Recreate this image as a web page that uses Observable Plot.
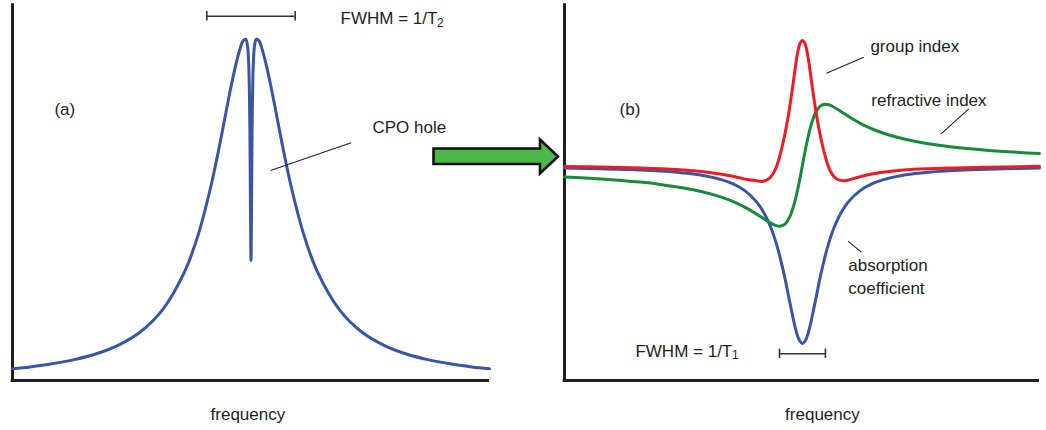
<!DOCTYPE html>
<html>
<head>
<meta charset="utf-8">
<script src="https://cdn.jsdelivr.net/npm/d3@7"></script>
<script src="https://cdn.jsdelivr.net/npm/@observablehq/plot@0.6"></script>
<style>
  html, body { margin: 0; padding: 0; background: #fff; }
  #root { position: relative; width: 1046px; height: 430px; overflow: hidden; background: #fff; }
  #root > svg, #root > figure { position: absolute; top: 0; margin: 0; }
</style>
</head>
<body>
<div id="root"></div>
<script>
// ---------- Panel (a): absorption line with CPO hole ----------
const aFreq = [-5.4,-5,-4.5,-4,-3.5,-3,-2.5,-2,-1.5,-1.2,-0.9,-0.7,-0.5,-0.35,-0.25,-0.18,-0.12,-0.08,-0.05,-0.03,-0.02,-0.01,0,
               0.01,0.02,0.03,0.05,0.08,0.12,0.18,0.25,0.35,0.5,0.7,0.9,1.2,1.5,2,2.5,3,3.5,4,4.5,5,5.4];
const aAbs  = [3.13,3.63,4.45,5.56,7.13,9.45,13.0,18.9,29.1,38.7,52.2,63.4,75.6,83.9,88.4,90.6,91.0,89.3,83.7,71.8,59.4,42.2,32.0,
               42.2,59.4,71.8,83.7,89.3,91.0,90.6,88.4,83.9,75.6,63.4,52.2,38.7,29.1,18.9,13.0,9.45,7.13,5.56,4.45,3.63,3.13];

// ---------- Panel (b): group index (red) ----------
const gFreq = [-10.37,-8.8,-7.07,-5.5,-4.4,-3.4,-2.8,-2.4,-2.0,-1.75,-1.5,-1.35,-1.2,-1.1,-1.0,-0.9,-0.8,-0.7,-0.6,-0.5,-0.4,-0.3,-0.2,-0.1,0,
               0.1,0.2,0.3,0.4,0.5,0.6,0.7,0.8,0.9,1.0,1.1,1.2,1.35,1.5,1.75,2.0,2.4,2.8,3.4,4.4,5.5,7.07,8.8,10.33];
const gIdx  = [0,-0.05,-0.15,-0.3,-0.5,-0.82,-1.1,-1.3,-1.42,-1.5,-1.28,-0.95,-0.38,0.2,0.95,1.85,2.85,4.0,5.3,6.8,8.4,10.1,11.5,12.35,12.6,
               12.35,11.5,10.1,8.4,6.8,5.3,4.0,2.85,1.85,0.95,0.2,-0.38,-0.95,-1.25,-1.42,-1.35,-1.1,-0.85,-0.6,-0.35,-0.22,-0.12,-0.05,0.02];

// ---------- Panel (b): refractive index (green) ----------
const nFreq = [-10.37,-8.8,-7.07,-6.2,-5,-4,-3.2,-2.6,-2.1,-1.7,-1.4,-1.15,-0.95,-0.75,-0.55,-0.35,-0.15,0,0.15,0.35,0.55,0.75,0.95,1.15,1.4,1.7,2.1,2.6,3.2,4,5,6.54,8.02,10.33];
const nIdx  = [-1.04,-1.24,-1.56,-1.79,-2.22,-2.74,-3.34,-3.96,-4.61,-5.2,-5.64,-5.91,-5.96,-5.73,-5.02,-3.67,-1.66,0.13,1.92,3.93,5.28,5.99,6.22,6.17,5.9,5.46,4.87,4.22,3.6,3.0,2.48,1.95,1.63,1.3];

// ---------- Panel (b): absorption coefficient (blue) ----------
const bFreq = [-10.37,-8.8,-7.07,-5.5,-4.5,-3.5,-3,-2.5,-2,-1.7,-1.4,-1.1,-0.8,-0.55,-0.3,-0.15,0,0.15,0.3,0.55,0.8,1.1,1.4,1.7,2,2.5,3,3.5,4.5,5.5,7.07,8.8,10.33];
const bAbs  = [-0.16,-0.23,-0.35,-0.57,-0.83,-1.34,-1.77,-2.44,-3.54,-4.55,-5.98,-8.01,-10.79,-13.59,-16.24,-17.31,-17.7,-17.31,-16.24,-13.59,-10.79,-8.01,-5.98,-4.55,-3.54,-2.44,-1.77,-1.34,-0.83,-0.57,-0.35,-0.23,-0.16];

// ---------- labels ----------
const labelsA = ["(a)", "CPO hole", "FWHM = 1/T", "2", "frequency"];
const labelsB = ["(b)", "group index", "refractive index", "absorption", "coefficient", "FWHM = 1/T", "1", "frequency"];

// ---------- build tables ----------
const zip = (xs, ys) => xs.map((x, i) => ({x, y: ys[i]}));
const lineA = zip(aFreq, aAbs);
const lineG = zip(gFreq, gIdx);
const lineN = zip(nFreq, nIdx);
const lineB = zip(bFreq, bAbs);

const INK = "#231f20";
const BLUE = "#3a55a5";
const RED = "#ec1c24";
const GREEN = "#178a3c";
const FONT = "'Liberation Sans', Arial, Helvetica, sans-serif";

// annotation placements in data units
const annA = [
  {x: -4.45, y: 70.9, t: labelsA[0], a: "start", s: 17},
  {x: 2.75, y: 66.1, t: labelsA[1], a: "start", s: 17},
  {x: 4.22, y: 95.1, t: labelsA[2], a: "end", s: 17},
  {x: 4.21, y: 94.4, t: labelsA[3], a: "start", s: 12},
  {x: -0.07, y: -10.5, t: labelsA[4], a: "middle", s: 17}
];
const annB = [
  {x: -7.97, y: 5.2, t: labelsB[0], a: "start", s: 17},
  {x: 2.96, y: 11.5, t: labelsB[1], a: "start", s: 17},
  {x: 3.0, y: 6.1, t: labelsB[2], a: "start", s: 17},
  {x: 2.0, y: -10.47, t: labelsB[3], a: "start", s: 17},
  {x: 2.0, y: -12.7, t: labelsB[4], a: "start", s: 17},
  {x: -3.06, y: -19.0, t: labelsB[5], a: "end", s: 17},
  {x: -3.07, y: -19.25, t: labelsB[6], a: "start", s: 12},
  {x: 0.87, y: -25.35, t: labelsB[7], a: "middle", s: 17}
];

function texts(ann) {
  return ["start", "middle", "end"].flatMap(anchor =>
    [17, 12].map(size => Plot.text(ann.filter(d => d.a === anchor && d.s === size), {
      x: "x", y: "y", text: "t", textAnchor: anchor, lineAnchor: "bottom",
      fontSize: size, fill: INK
    }))
  );
}

// ---------- Panel (a) ----------
const xDomA = [-5.4, 5.4], yDomA = [0, 100];
const plotA = Plot.plot({
  width: 520, height: 430,
  marginLeft: 12, marginRight: 31, marginTop: 5, marginBottom: 50,
  x: {domain: xDomA, axis: null},
  y: {domain: yDomA, axis: null},
  style: {fontFamily: FONT, background: "transparent", overflow: "visible"},
  marks: [
    Plot.ruleX([xDomA[0]], {y1: yDomA[0], y2: 100.45, stroke: INK, strokeWidth: 3}),
    Plot.ruleY([yDomA[0]], {x1: xDomA[0] - 0.03, x2: xDomA[1], stroke: INK, strokeWidth: 3}),
    Plot.line(lineA, {x: "x", y: "y", stroke: BLUE, strokeWidth: 3, curve: "catmull-rom"}),
    // FWHM bar
    Plot.ruleY([97.15], {x1: -1, x2: 1, stroke: "#333", strokeWidth: 1.6}),
    Plot.ruleX([-1, 1], {y1: 95.9, y2: 98.4, stroke: "#333", strokeWidth: 1.6}),
    // pointer
    Plot.link([{x1: 0.441, y1: 56.0, x2: 2.268, y2: 63.4}], {x1: "x1", y1: "y1", x2: "x2", y2: "y2", stroke: "#222", strokeWidth: 1.1}),
    ...texts(annA)
  ]
});
plotA.style.left = "0px";

// ---------- Panel (b) ----------
const xDomB = [-10.37, 10.33], yDomB = [-21.4, 16.1];
const plotB = Plot.plot({
  width: 526, height: 430,
  marginLeft: 44, marginRight: 7, marginTop: 5, marginBottom: 50,
  x: {domain: xDomB, axis: null},
  y: {domain: yDomB, axis: null},
  style: {fontFamily: FONT, background: "transparent", overflow: "visible"},
  marks: [
    Plot.ruleX([xDomB[0]], {y1: yDomB[0], y2: 16.27, stroke: INK, strokeWidth: 3}),
    Plot.ruleY([yDomB[0]], {x1: xDomB[0] - 0.06, x2: xDomB[1], stroke: INK, strokeWidth: 3}),
    Plot.line(lineB, {x: "x", y: "y", stroke: BLUE, strokeWidth: 3, curve: "catmull-rom"}),
    Plot.line(lineN, {x: "x", y: "y", stroke: GREEN, strokeWidth: 3, curve: "catmull-rom"}),
    Plot.line(lineG, {x: "x", y: "y", stroke: RED, strokeWidth: 3, curve: "catmull-rom"}),
    // FWHM bar
    Plot.ruleY([-18.73], {x1: -1, x2: 1, stroke: "#333", strokeWidth: 1.6}),
    Plot.ruleX([-1, 1], {y1: -19.2, y2: -18.26, stroke: "#333", strokeWidth: 1.6}),
    // pointers
    Plot.link([
      {x1: 1.046, y1: 9.33, x2: 2.67, y2: 10.93},
      {x1: 6.04, y1: 3.27, x2: 7.25, y2: 5.77},
      {x1: 1.99, y1: -7.47, x2: 2.56, y2: -8.57}
    ], {x1: "x1", y1: "y1", x2: "x2", y2: "y2", stroke: "#222", strokeWidth: 1.1}),
    ...texts(annB)
  ]
});
plotB.style.left = "520px";

const root = document.getElementById("root");
root.appendChild(plotA);
root.appendChild(plotB);

// ---------- connecting arrow (decoration between panels) ----------
const arrow = d3.create("svg")
  .attr("width", 1046).attr("height", 430)
  .style("position", "absolute").style("left", "0px").style("top", "0px")
  .style("pointer-events", "none");
arrow.append("polygon")
  .attr("points", [[433.5,148.5],[540,148.5],[540,139.5],[558,156.5],[540,173.5],[540,164],[433.5,164]].map(p => p.join(",")).join(" "))
  .attr("fill", "#4cb848").attr("stroke", "#111").attr("stroke-width", 2.6).attr("stroke-linejoin", "miter");
root.appendChild(arrow.node());
</script>
</body>
</html>
